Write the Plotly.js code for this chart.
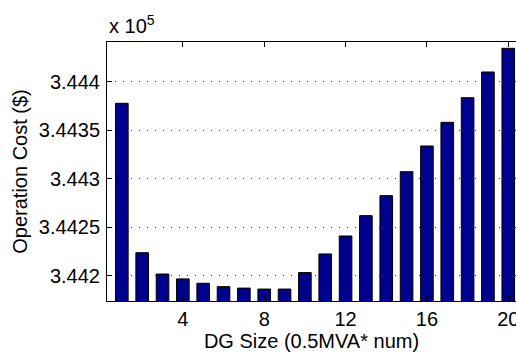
<!DOCTYPE html>
<html>
<head>
<meta charset="utf-8">
<script src="https://cdn.plot.ly/plotly-3.0.1.min.js"></script>
<style>html,body{margin:0;padding:0;background:#fff;}#chart{width:516px;height:354px;}</style>
</head>
<body>
<div id="chart"></div>
<script>
// DG size index (number of 0.5 MVA units)
const dgSize = [1,2,3,4,5,6,7,8,9,10,11,12,13,14,15,16,17,18,19,20];
// Operation cost in units of 10^5 $
const operationCost = [3.44378, 3.44224, 3.44202, 3.44197, 3.441925, 3.44189, 3.441875, 3.441865, 3.441865, 3.442035,
                       3.442227, 3.442412, 3.442622, 3.442828, 3.443075, 3.44334, 3.443584, 3.443838, 3.444103, 3.444347];
const yTickVals = [3.442, 3.4425, 3.443, 3.4435, 3.444];
const yTickText = ['3.442', '3.4425', '3.443', '3.4435', '3.444'];
const xTickVals = [4, 8, 12, 16, 20];

const font = 'Liberation Sans, Arial, sans-serif';
const fs = 20;

const trace = {
  type: 'bar',
  x: dgSize,
  y: operationCost,
  width: 0.62,
  marker: {color: '#00008F', line: {color: '#000000', width: 1}},
  hoverinfo: 'none'
};

const layout = {
  width: 516, height: 354,
  margin: {l: 107, r: 0, t: 42, b: 53},
  paper_bgcolor: '#ffffff', plot_bgcolor: '#ffffff',
  showlegend: false,
  font: {family: font, size: fs, color: '#000'},
  xaxis: {
    range: [0.27, 20.38],
    tickvals: xTickVals,
    ticks: 'inside', ticklen: 5, tickcolor: '#000', tickwidth: 1,
    showline: true, linecolor: '#000', linewidth: 1,
    mirror: 'ticks',
    showgrid: false, zeroline: false,
    ticklabeloverflow: 'allow',
    tickfont: {family: font, size: fs, color: '#000'},
    title: {text: 'DG Size (0.5MVA* num)', font: {family: font, size: fs, color: '#000'}, standoff: 3}
  },
  yaxis: {
    range: [3.441742, 3.444412],
    tickvals: yTickVals, ticktext: yTickText,
    ticks: 'inside', ticklen: 5, tickcolor: '#000', tickwidth: 1,
    showline: true, linecolor: '#000', linewidth: 1,
    showgrid: true, gridcolor: '#333', griddash: '1px,7px', gridwidth: 1,
    zeroline: false,
    ticklabelstandoff: 2,
    tickfont: {family: font, size: fs, color: '#000'},
    title: {text: 'Operation Cost ($)', font: {family: font, size: fs, color: '#000'}, standoff: 5}
  },
  annotations: [{
    text: 'x 10<sup>5</sup>', xref: 'paper', yref: 'paper', x: 0, y: 1,
    xanchor: 'left', yanchor: 'bottom', yshift: 3, showarrow: false,
    font: {family: font, size: fs, color: '#000'}
  }]
};
Plotly.newPlot('chart', [trace], layout, {displayModeBar: false, staticPlot: true});
</script>
</body>
</html>
